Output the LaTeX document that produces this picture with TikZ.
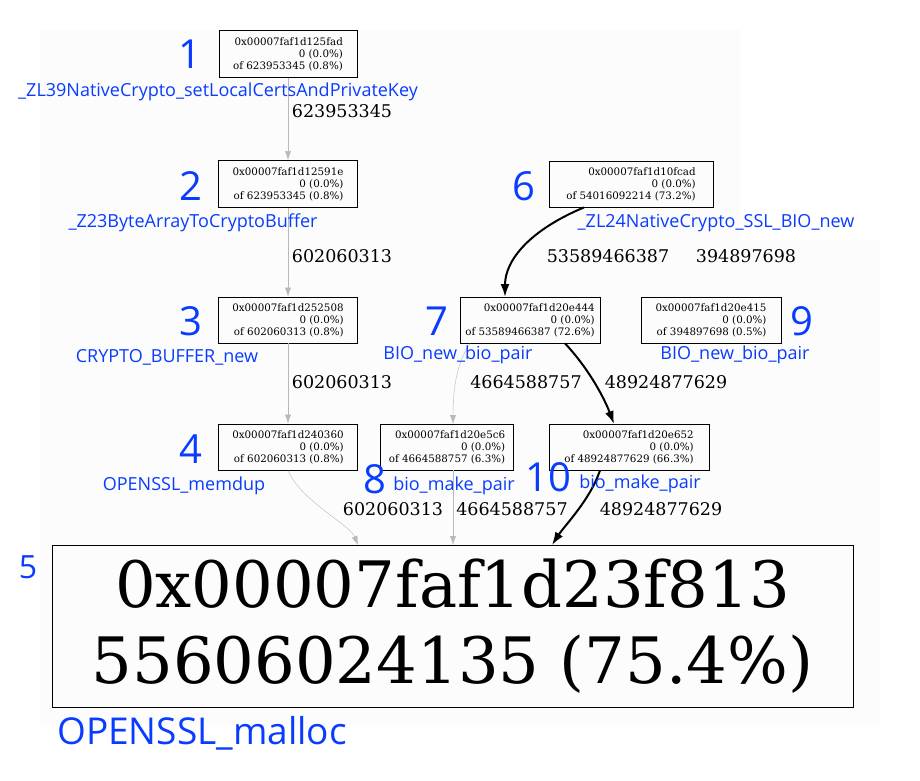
\documentclass[tikz,border=0pt]{standalone}
\usepackage{fontspec}
\setmainfont{DejaVu Serif}
\newfontfamily\lab{Open Sans}
\usetikzlibrary{arrows.meta}
\definecolor{lblue}{HTML}{0A3CFF}
\definecolor{bg}{HTML}{FBFCFB}
\begin{document}
\begin{tikzpicture}[x=1pt,y=-1pt,
  box/.style={draw,thick,inner sep=0pt,font=\fontsize{10.3}{12}\selectfont,align=right},
  num/.style={text=lblue,font=\lab\fontsize{40}{40}\selectfont,inner sep=0pt},
  fn/.style={text=lblue,font=\lab\fontsize{18}{18}\selectfont,inner sep=0pt},
  el/.style={font=\fontsize{17.5}{17.5}\selectfont,inner sep=0pt},
  thin/.style={draw=gray!55,line width=0.4pt,-{Latex[length=9pt,width=6pt]}},
  fat/.style={draw=black,line width=2pt,-{Latex[length=13pt,width=9pt]}}]
\useasboundingbox (0,0) rectangle (920,780);
\fill[bg] (40,30) rectangle (880,725);
\fill[white] (95,0) rectangle (430,30);
\fill[white] (520,0) rectangle (765,12);
\fill[white] (740,30) rectangle (920,240);
\fill[white] (880,240) rectangle (920,780);
\node[box,minimum width=138pt,minimum height=47pt] (n1) at (288,54) {0x00007faf1d125fad\\0 (0.0\%)\\of 623953345 (0.8\%)};
\node[box,minimum width=139pt,minimum height=47pt] (n2) at (288,184) {0x00007faf1d12591e\\0 (0.0\%)\\of 623953345 (0.8\%)};
\node[box,minimum width=139pt,minimum height=46pt] (n3) at (288,320) {0x00007faf1d252508\\0 (0.0\%)\\of 602060313 (0.8\%)};
\node[box,minimum width=139pt,minimum height=46pt] (n4) at (288,447) {0x00007faf1d240360\\0 (0.0\%)\\of 602060313 (0.8\%)};
\node[box,minimum width=164pt,minimum height=46pt] (n6) at (631,184) {0x00007faf1d10fcad\\0 (0.0\%)\\of 54016092214 (73.2\%)};
\node[box,minimum width=140pt,minimum height=46pt] (n7) at (530,320) {0x00007faf1d20e444\\0 (0.0\%)\\of 53589466387 (72.6\%)};
\node[box,minimum width=140pt,minimum height=46pt] (n9) at (711,320) {0x00007faf1d20e415\\0 (0.0\%)\\of 394897698 (0.5\%)};
\node[box,minimum width=133pt,minimum height=46pt] (n8) at (447,447) {0x00007faf1d20e5c6\\0 (0.0\%)\\of 4664588757 (6.3\%)};
\node[box,minimum width=160pt,minimum height=46pt] (n10) at (629,447) {0x00007faf1d20e652\\0 (0.0\%)\\of 48924877629 (66.3\%)};
\node[draw,thick,minimum width=801pt,minimum height=162pt,inner sep=0pt,font=\fontsize{64}{76}\selectfont,align=center] (n5) at (452.5,626) {0x00007faf1d23f813\\55606024135 (75.4\%)};
% edges
\draw[thin] (n1) -- (n2);
\draw[thin] (n2) -- (n3);
\draw[thin] (n3) -- (n4);
\draw[thin] (n4.south) .. controls (300,500) and (350,525) .. (358,545);
\draw[thin] (n8.south -| 453,0) -- (453,545);
\draw[fat] (n10.south -| 600,0) .. controls (590,500) and (565,525) .. (552,545);
\draw[fat] (n6.south -| 584,0) .. controls (530,230) and (505,260) .. (505,297);
\draw[thin] (n7.south -| 470,0) .. controls (455,365) and (453,395) .. (453,424);
\draw[fat] (n7.south -| 565,0) .. controls (590,370) and (605,400) .. (614,424);
\draw[draw=bg,-{Latex[length=9pt,width=6pt]},line width=0.4pt] (690,270) -- (n9.north -| 699,0);
% edge labels
\node[el] at (342,111) {623953345};
\node[el] at (342,256) {602060313};
\node[el] at (342,382) {602060313};
\node[el] at (608,256) {53589466387};
\node[el] at (746,256) {394897698};
\node[el] at (526,382) {4664588757};
\node[el] at (666,382) {48924877629};
\node[el] at (393,509) {602060313};
\node[el] at (512,509) {4664588757};
\node[el] at (661,509) {48924877629};
% labels
\node[num] at (190,54) {1};
\node[fn] at (218,92) {\_ZL39NativeCrypto\_setLocalCertsAndPrivateKey};
\node[num] at (191,186) {2};
\node[fn] at (193,223) {\_Z23ByteArrayToCryptoBuffer};
\node[num] at (191,321) {3};
\node[fn] at (167,357) {CRYPTO\_BUFFER\_new};
\node[num] at (191,449) {4};
\node[fn] at (184,486) {OPENSSL\_memdup};
\node[num] at (524,186) {6};
\node[fn] at (716,223) {\_ZL24NativeCrypto\_SSL\_BIO\_new};
\node[num] at (437,321) {7};
\node[fn] at (458,355) {BIO\_new\_bio\_pair};
\node[num] at (802,321) {9};
\node[fn] at (735,355) {BIO\_new\_bio\_pair};
\node[num] at (375,479) {8};
\node[fn] at (454,486) {bio\_make\_pair};
\node[num] at (548,477) {10};
\node[fn] at (640,484) {bio\_make\_pair};
\node[text=lblue,font=\lab\fontsize{32}{32}\selectfont,inner sep=0pt] at (28,567) {5};
\node[text=lblue,font=\lab\fontsize{37}{37}\selectfont,inner sep=0pt] at (202,733) {OPENSSL\_malloc};
\end{tikzpicture}
\end{document}
